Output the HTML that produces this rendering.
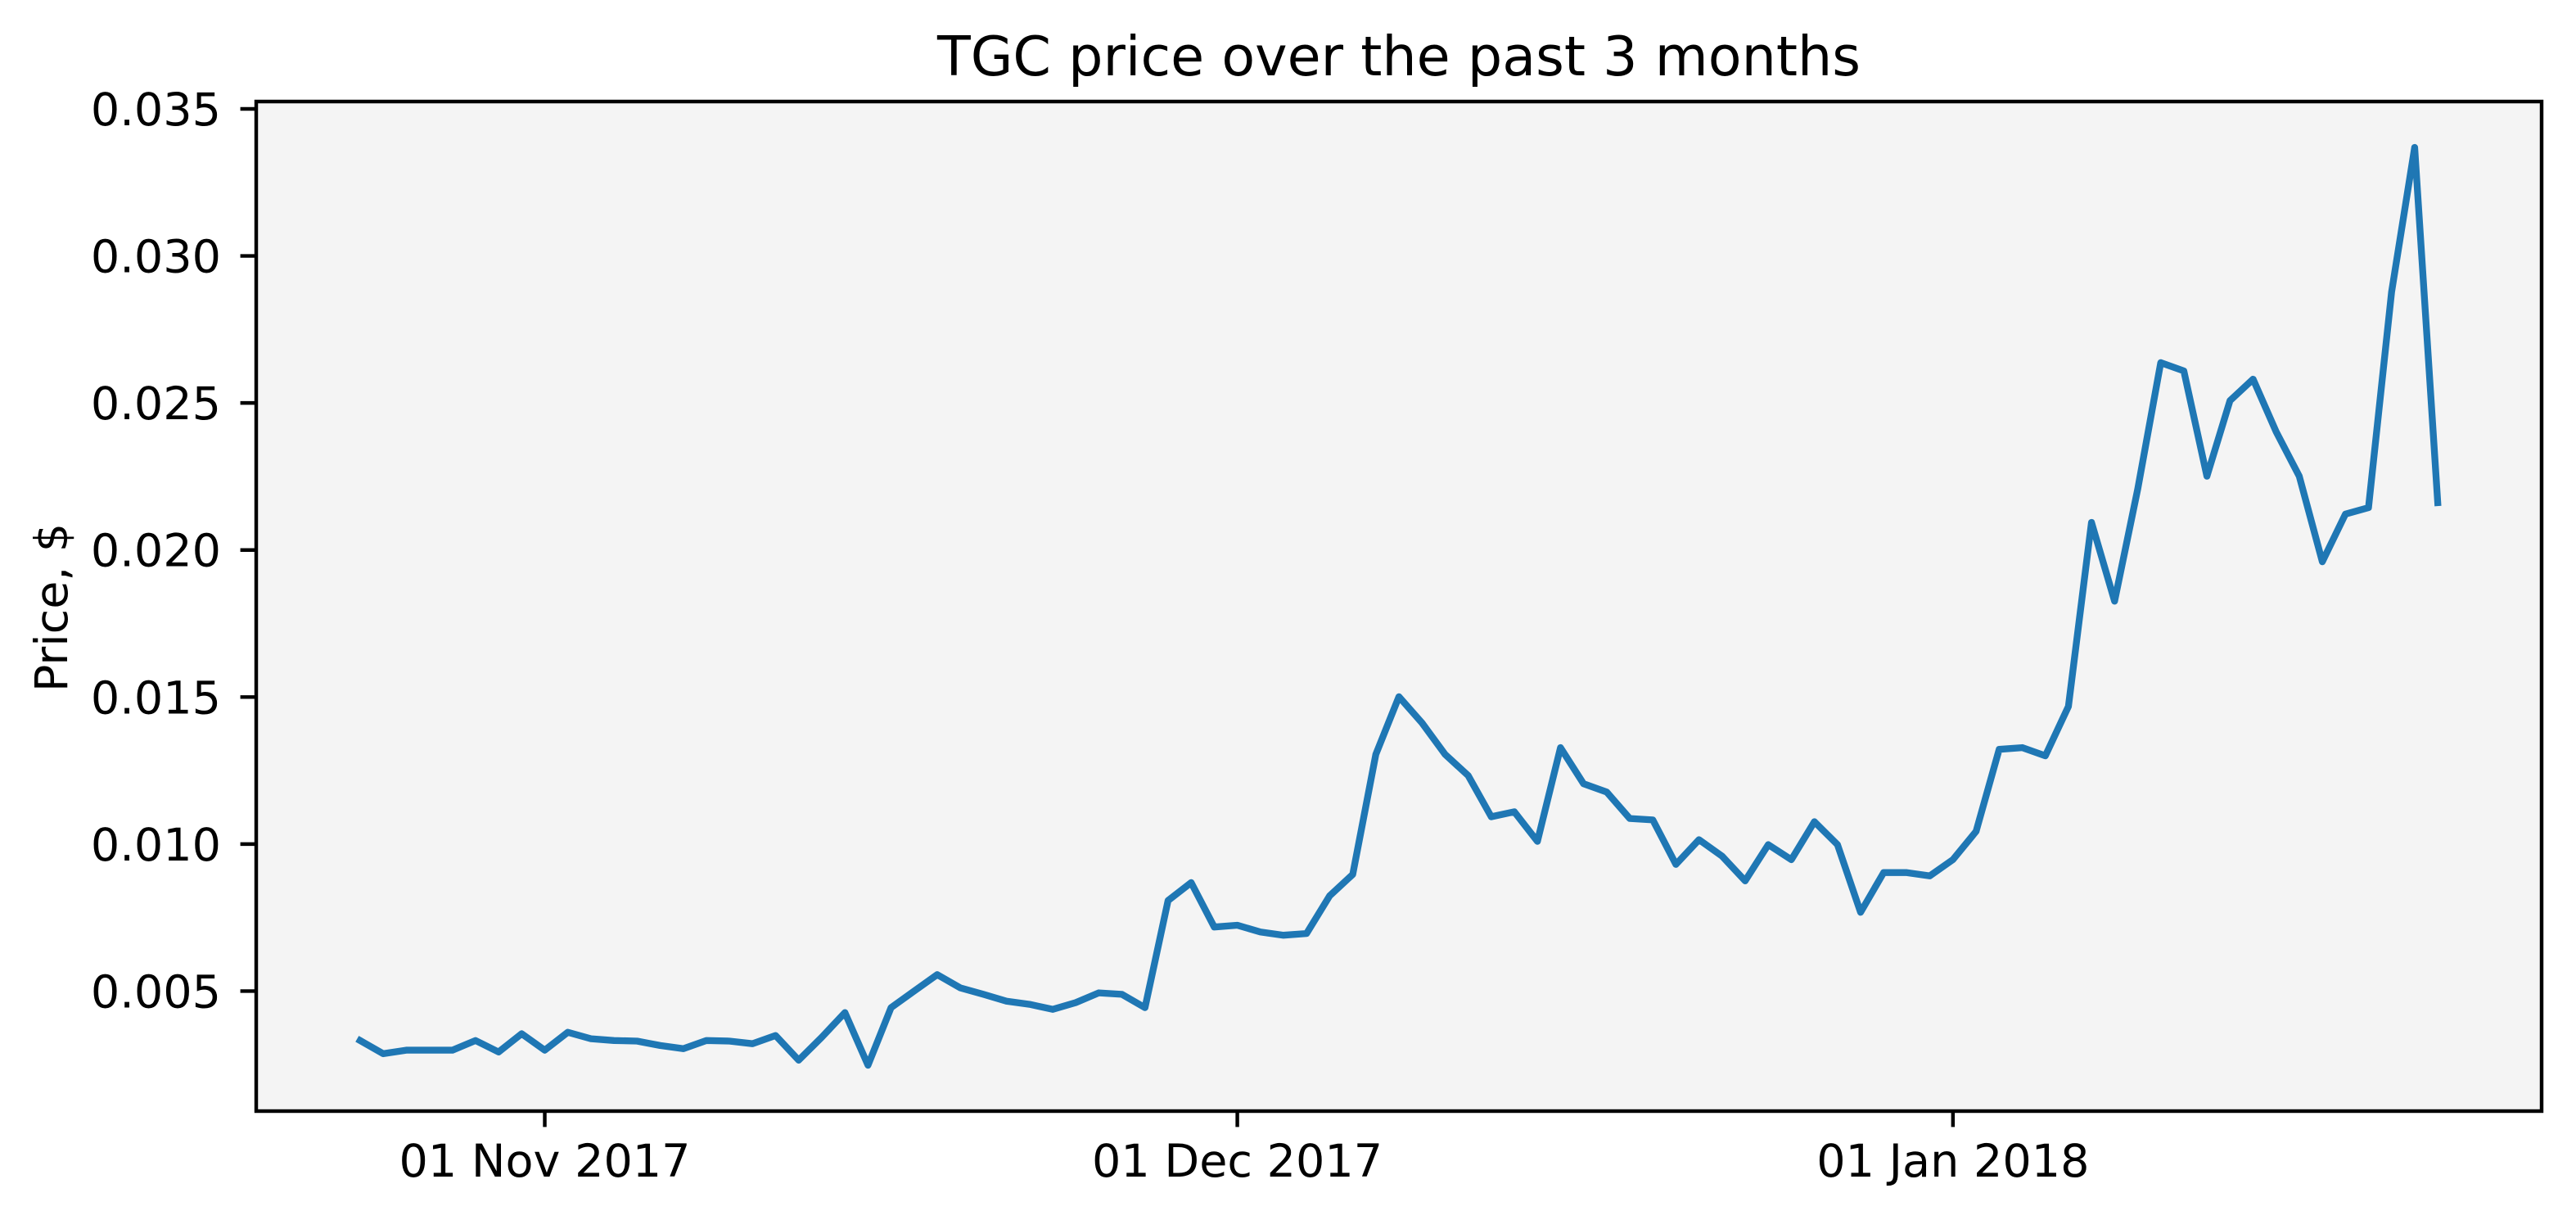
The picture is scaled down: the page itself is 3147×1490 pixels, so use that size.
<!DOCTYPE html>
<html><head><meta charset="utf-8"><style>html,body{margin:0;padding:0;background:#fff}svg{display:block}text{font-family:"DejaVu Sans","Liberation Sans",sans-serif;fill:#000}</style></head>
<body>
<svg id="chart" width="3147" height="1490" viewBox="0 0 3147 1490" xmlns="http://www.w3.org/2000/svg">
<rect x="313" y="124" width="2792" height="1233" fill="#f4f4f4"/>
<text x="1709" y="92" font-size="66.7" text-anchor="middle">TGC price over the past 3 months</text>
<text transform="translate(82,742) rotate(-90)" font-size="55.6" text-anchor="middle">Price, $</text>
</svg>
<script>
const prices = [0.00332,0.00287,0.00299,0.00299,0.00299,0.00332,0.00293,0.00355,0.00299,0.00360,0.00338,0.00332,0.00330,0.00315,0.00304,0.00332,0.00330,0.00321,0.00349,0.00265,0.00343,0.00427,0.00248,0.00444,0.00500,0.00556,0.00511,0.00489,0.00466,0.00455,0.00438,0.00461,0.00494,0.00489,0.00444,0.00808,0.00869,0.00718,0.00724,0.00701,0.00690,0.00696,0.00824,0.00897,0.01305,0.01501,0.01412,0.01305,0.01233,0.01093,0.01110,0.01009,0.01328,0.01205,0.01177,0.01087,0.01082,0.00931,0.01015,0.00959,0.00875,0.00998,0.00947,0.01076,0.00998,0.00768,0.00903,0.00903,0.00892,0.00947,0.01043,0.01322,0.01328,0.01300,0.01468,0.02094,0.01826,0.02206,0.02637,0.02609,0.02251,0.02508,0.02581,0.02402,0.02251,0.01960,0.02122,0.02144,0.02877,0.03369,0.02161];
const yTicks = [0.005,0.010,0.015,0.020,0.025,0.030,0.035];
const yTickLabels = ["0.005","0.010","0.015","0.020","0.025","0.030","0.035"];
const xTickDays = [8,38,69];
const xTickLabels = ["01 Nov 2017","01 Dec 2017","01 Jan 2018"];

const L=313,R=3105,T=124,B=1357;
const n=prices.length;
const xMin=-0.05*(n-1), xMax=(n-1)*1.05;
const pMin=Math.min(...prices), pMax=Math.max(...prices), pr=pMax-pMin;
const yMin=pMin-0.05*pr, yMax=pMax+0.05*pr;
const xs=i=>L+(i-xMin)/(xMax-xMin)*(R-L);
const ys=v=>B-(v-yMin)/(yMax-yMin)*(B-T);
const svg=document.getElementById('chart');
const NS='http://www.w3.org/2000/svg';
function mk(tag,attrs){const e=document.createElementNS(NS,tag);for(const k in attrs)e.setAttribute(k,attrs[k]);svg.appendChild(e);return e;}

const line=mk('polyline',{points:prices.map((v,i)=>xs(i).toFixed(1)+','+ys(v).toFixed(1)).join(' '),fill:'none',stroke:'#1f77b4','stroke-width':8.33,'stroke-linejoin':'round','stroke-linecap':'square'});



yTicks.forEach((v,k)=>{
  const y=ys(v);
  const t=mk('line',{x1:L-19.4,x2:L,y1:y,y2:y,stroke:'#000','stroke-width':4.44});
  
  
  const lb=mk('text',{x:L-43,y:y+20,'font-size':55.6,'text-anchor':'end'});
  lb.textContent=yTickLabels[k];
  
  
});
xTickDays.forEach((d,k)=>{
  const x=xs(d);
  const t=mk('line',{x1:x,x2:x,y1:B,y2:B+19.4,stroke:'#000','stroke-width':4.44});
  
  
  const lb=mk('text',{x:x,y:B+80,'font-size':55.6,'text-anchor':'middle'});
  lb.textContent=xTickLabels[k];
  
  
});
const frame=mk('rect',{x:L,y:T,width:R-L,height:B-T,fill:'none',stroke:'#000','stroke-width':4.44});


</script>
</body></html>
